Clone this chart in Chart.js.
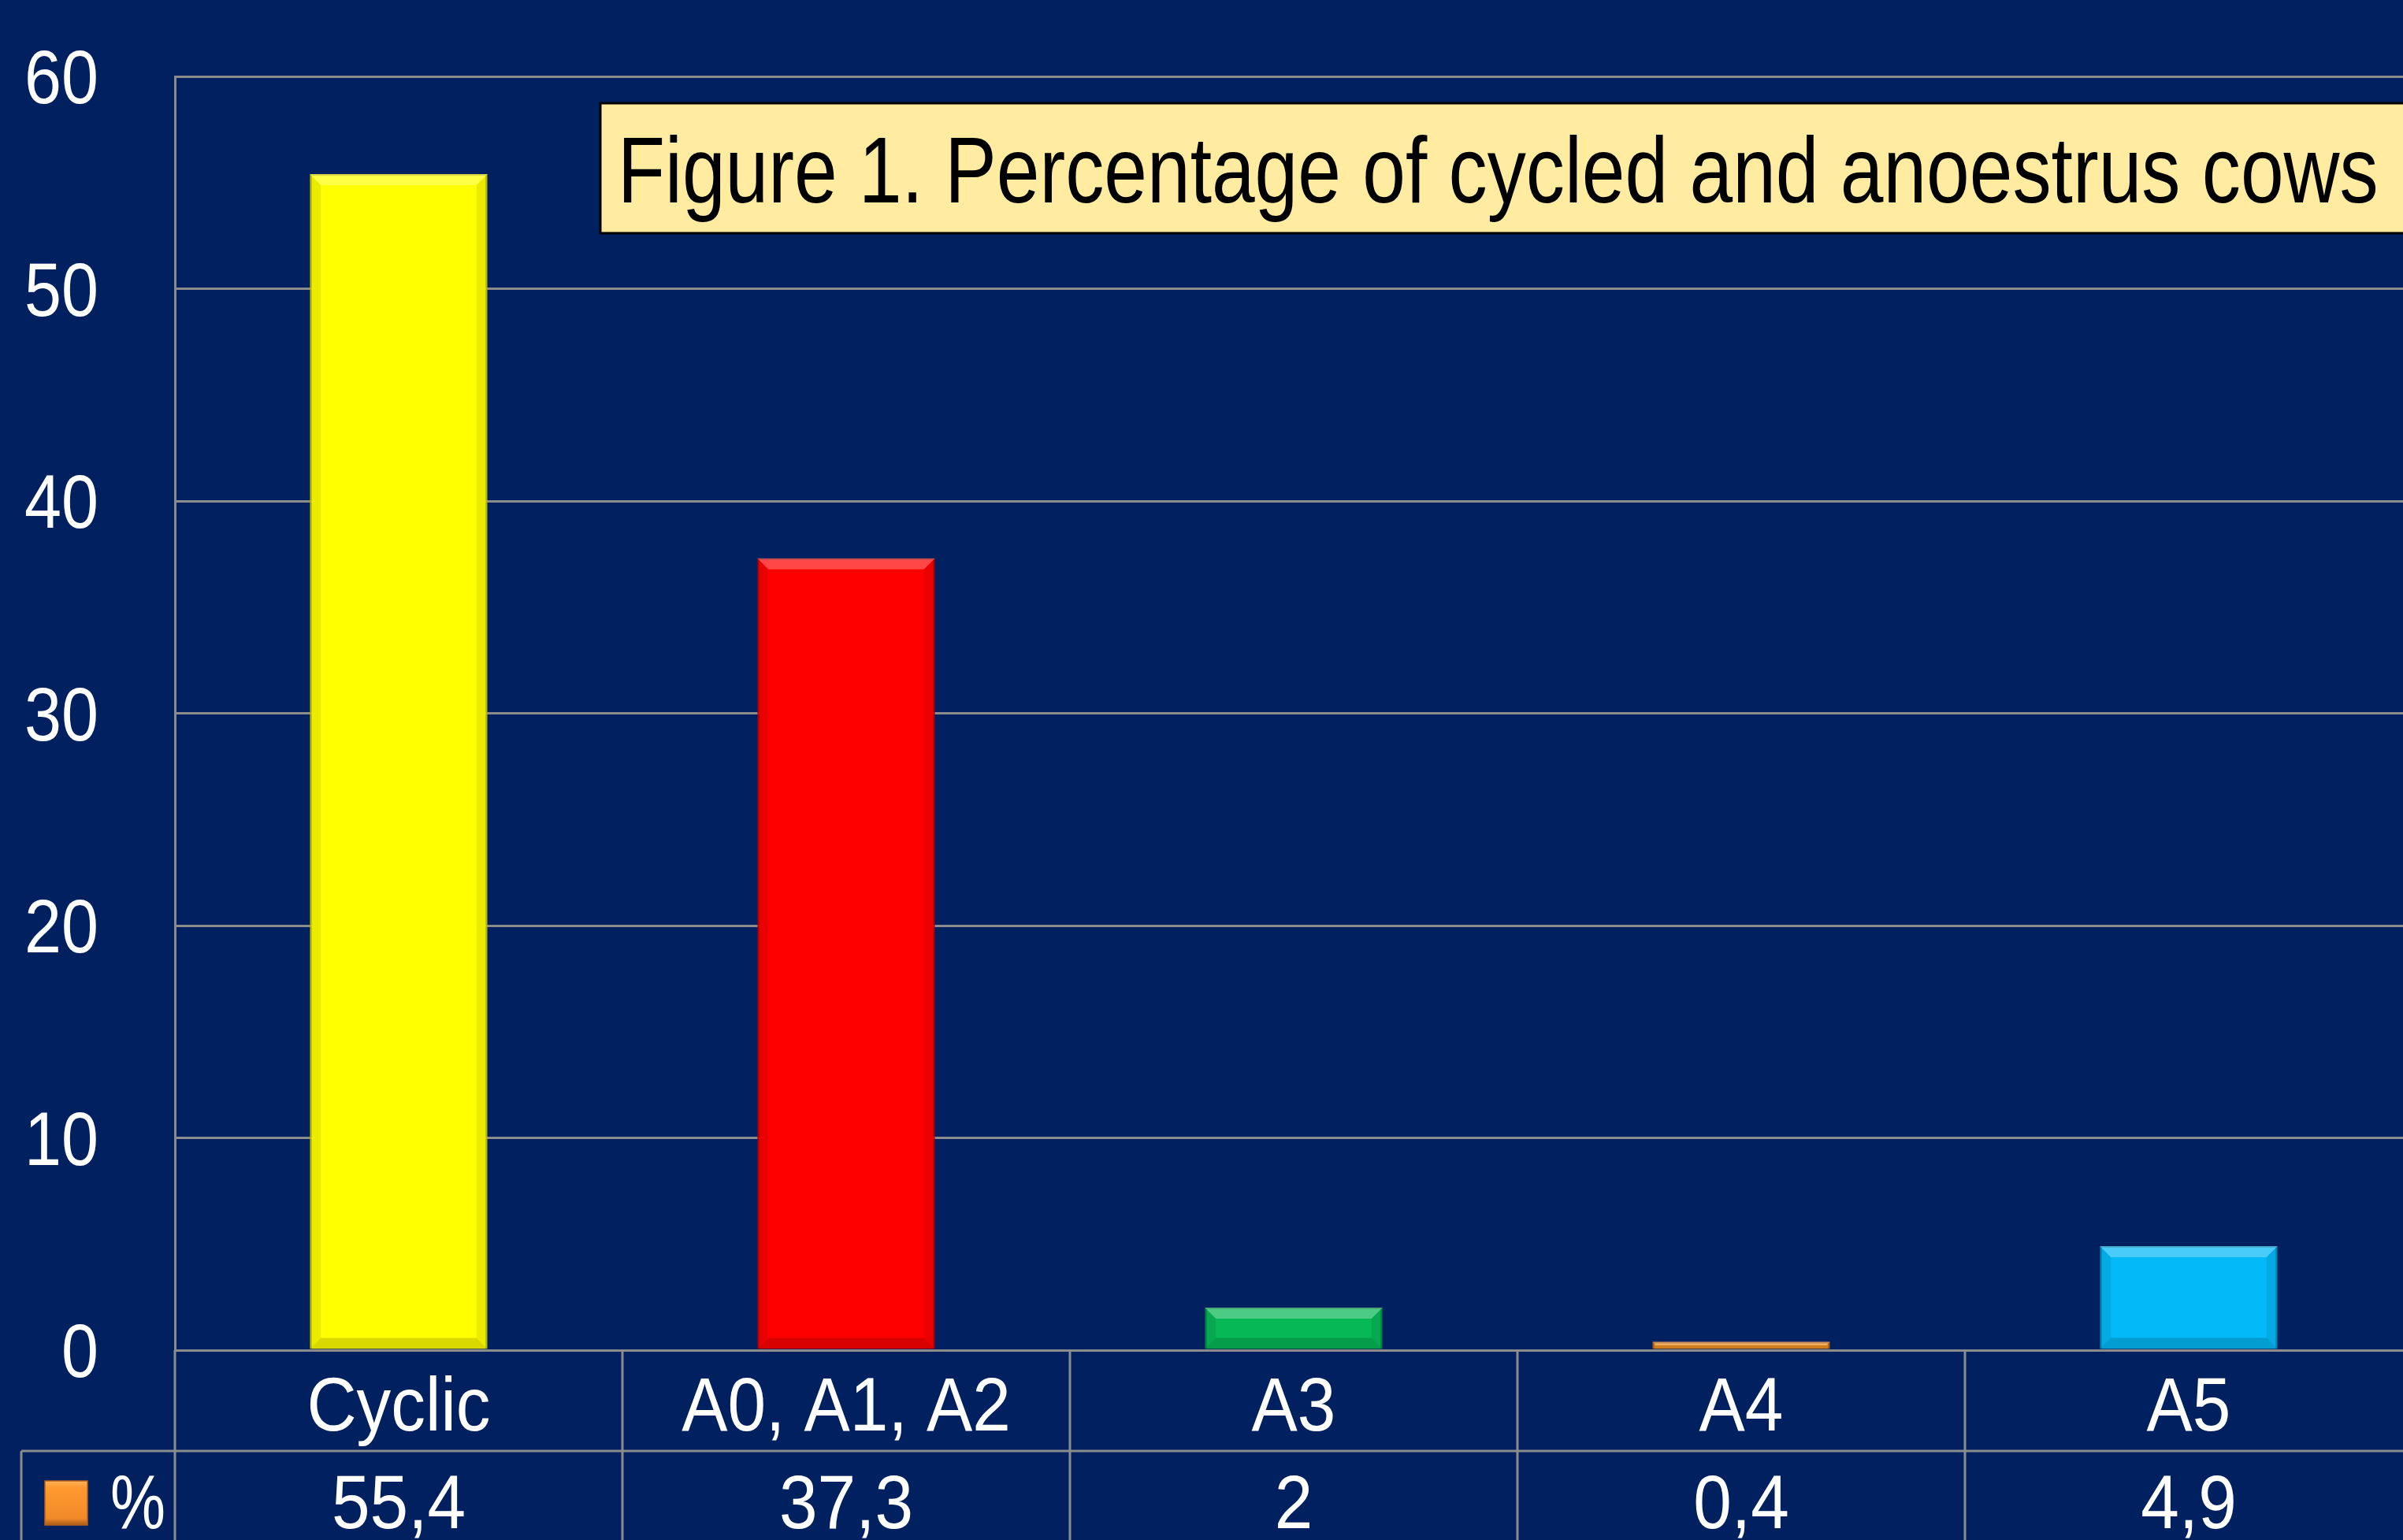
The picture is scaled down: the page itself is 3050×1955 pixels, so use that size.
<!DOCTYPE html>
<html>
<head>
<meta charset="utf-8">
<script src="https://cdn.jsdelivr.net/npm/chart.js@4/dist/chart.umd.min.js"></script>
<style>
  html, body { margin: 0; padding: 0; background: #002060; overflow: hidden; width: 3050px; height: 1955px; }
  #wrap { position: absolute; left: 0; top: 0; width: 3100px; height: 1955px; }
</style>
</head>
<body>
<div id="wrap"><canvas id="c" width="3100" height="1955"></canvas></div>
<script>
const categories = ["Cyclic", "A0, A1, A2", "A3", "A4", "A5"];
const values = [55.4, 37.3, 2, 0.4, 4.9];
const valueLabels = ["55,4", "37,3", "2", "0,4", "4,9"];
const barColors = ["#FFFF00", "#FF0000", "#07B857", "#F39425", "#04B9F7"];
const barBorders = ["#C8C800", "#C00000", "#058A40", "#B85E10", "#0390C0"];
const seriesName = "%";
const titleText = "Figure 1. Percentage of cycled and anoestrus cows";
const yTicks = [0, 10, 20, 30, 40, 50, 60];

const FONT = '"Liberation Sans", Arial, sans-serif';
const GRID = "#8C8C8C";

function narrowText(ctx, text, x, y, align, size, color, sx) {
  ctx.save();
  ctx.font = size + "px " + FONT;
  ctx.fillStyle = color;
  ctx.textAlign = align;
  ctx.textBaseline = "alphabetic";
  ctx.translate(x, y);
  ctx.scale(sx, 1);
  ctx.fillText(text, 0, 0);
  ctx.restore();
}

const bevelPlugin = {
  id: "bevelPlugin",
  afterDatasetsDraw(chart) {
    const ctx = chart.ctx;
    const meta = chart.getDatasetMeta(0);
    ctx.save();
    meta.data.forEach(bar => {
      const p = bar.getProps(["x", "y", "base", "width"], true);
      const l = p.x - p.width / 2, r = p.x + p.width / 2;
      const t = Math.min(p.y, p.base), b = Math.max(p.y, p.base);
      const h = b - t;
      const bev = Math.min(14, h / 2);
      // top highlight
      ctx.fillStyle = "rgba(255,255,255,0.28)";
      ctx.beginPath();
      ctx.moveTo(l, t); ctx.lineTo(r, t); ctx.lineTo(r - bev, t + bev); ctx.lineTo(l + bev, t + bev);
      ctx.closePath(); ctx.fill();
      // side shading
      ctx.fillStyle = "rgba(0,0,0,0.08)";
      ctx.beginPath();
      ctx.moveTo(l, t); ctx.lineTo(l + bev, t + bev); ctx.lineTo(l + bev, b - bev); ctx.lineTo(l, b);
      ctx.closePath(); ctx.fill();
      ctx.beginPath();
      ctx.moveTo(r, t); ctx.lineTo(r - bev, t + bev); ctx.lineTo(r - bev, b - bev); ctx.lineTo(r, b);
      ctx.closePath(); ctx.fill();
      // bottom shade
      ctx.fillStyle = "rgba(0,0,0,0.15)";
      ctx.beginPath();
      ctx.moveTo(l, b); ctx.lineTo(r, b); ctx.lineTo(r - bev, b - bev); ctx.lineTo(l + bev, b - bev);
      ctx.closePath(); ctx.fill();
    });
    ctx.restore();
  }
};

const tablePlugin = {
  id: "tablePlugin",
  afterDraw(chart) {
    const ctx = chart.ctx;
    const a = chart.chartArea;
    const xs = chart.scales.x;
    const ys = chart.scales.y;
    const H = chart.height;
    const n = categories.length;
    const colW = (a.right - a.left) / n;
    const row1 = 128;
    ctx.save();
    ctx.strokeStyle = GRID;
    ctx.lineWidth = 3;
    ctx.beginPath();
    ctx.moveTo(27, a.bottom + row1);
    ctx.lineTo(chart.width, a.bottom + row1);
    ctx.stroke();
    for (let i = 0; i <= n; i++) {
      const x = a.left + i * colW;
      ctx.beginPath();
      ctx.moveTo(x, a.bottom);
      ctx.lineTo(x, H);
      ctx.stroke();
    }
    ctx.beginPath();
    ctx.moveTo(27, a.bottom + row1);
    ctx.lineTo(27, H);
    ctx.stroke();
    ctx.restore();

    ys.ticks.forEach(t => {
      const y = ys.getPixelForValue(t.value);
      narrowText(ctx, String(t.value), 125, y + 34, "right", 96, "#FFFFFF", 0.88);
    });
    categories.forEach((c, i) => {
      const x = xs.getPixelForValue(i);
      narrowText(ctx, c, x, a.bottom + 102, "center", 96, "#FFFFFF", 0.91);
      narrowText(ctx, valueLabels[i], x, a.bottom + row1 + 98, "center", 96, "#FFFFFF", 0.91);
    });
    ctx.save();
    const g = ctx.createLinearGradient(0, 1880, 0, 1936);
    g.addColorStop(0, "#FFB45A");
    g.addColorStop(0.15, "#FF9A30");
    g.addColorStop(0.85, "#F08A28");
    g.addColorStop(1, "#A85A18");
    ctx.fillStyle = g;
    ctx.fillRect(57, 1880, 54, 56);
    ctx.strokeStyle = "#B8601A";
    ctx.lineWidth = 1.5;
    ctx.strokeRect(57, 1880, 54, 56);
    ctx.restore();
    narrowText(ctx, seriesName, 140, a.bottom + row1 + 98, "left", 96, "#FFFFFF", 0.82);
    ctx.save();
    ctx.fillStyle = "#FFECA0";
    ctx.fillRect(762, 131, 2400, 165);
    ctx.strokeStyle = "#000000";
    ctx.lineWidth = 3;
    ctx.strokeRect(762, 131, 2400, 165);
    ctx.restore();
    narrowText(ctx, titleText, 784, 257, "left", 118, "#000000", 0.833);
  }
};

new Chart(document.getElementById("c"), {
  type: "bar",
  data: {
    labels: categories,
    datasets: [{
      label: seriesName,
      data: values,
      backgroundColor: barColors,
      borderColor: barBorders,
      borderWidth: 2,
      categoryPercentage: 1.0,
      barPercentage: 0.397
    }]
  },
  options: {
    responsive: false,
    animation: false,
    devicePixelRatio: 1,
    layout: { padding: { top: 97, bottom: 241, right: 38, left: 0 } },
    plugins: { legend: { display: false }, tooltip: { enabled: false }, title: { display: false } },
    scales: {
      x: { display: false },
      y: {
        min: 0, max: 60,
        afterBuildTicks(axis) { axis.ticks = yTicks.map(v => ({ value: v })); },
        afterFit(axis) { axis.width = 222; },
        grid: { color: GRID, lineWidth: 3, drawTicks: false },
        border: { color: GRID, width: 3 },
        ticks: { display: false }
      }
    }
  },
  plugins: [bevelPlugin, tablePlugin]
});
</script>
</body>
</html>
